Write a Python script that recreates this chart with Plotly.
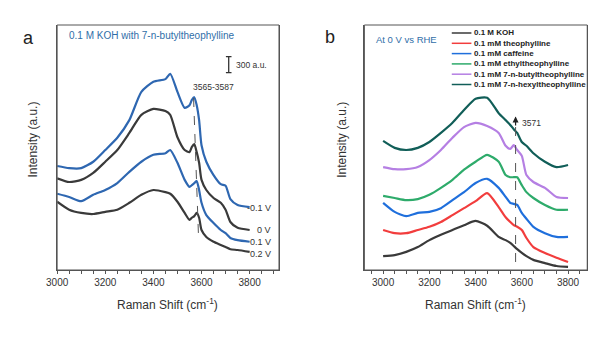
import plotly.graph_objects as go

# ---------------- panel a: potential series in 0.1 M KOH + 7-n-butyltheophylline
wn_a = [3000, 3050, 3100, 3150, 3200, 3250, 3300, 3350, 3400, 3450, 3470, 3500, 3530,
        3550, 3560, 3570, 3580, 3590, 3600, 3620, 3650, 3680, 3700, 3720, 3750, 3800]
neg01V = [1950, 1910, 1910, 2030, 2250, 2480, 2810, 3340, 3530, 3580, 3680, 3340, 3040,
          3090, 3190, 3240, 3090, 2810, 2340, 2030, 1780, 1610, 1580, 1330, 1220, 1180]
zeroV = [1720, 1650, 1690, 1820, 2030, 2250, 2570, 2910, 3020, 2980, 2910, 2490, 2250,
         2210, 2310, 2360, 2210, 2010, 1690, 1500, 1350, 1260, 1130, 900, 790, 750]
pos01V = [1430, 1370, 1290, 1410, 1500, 1630, 1840, 2030, 2160, 2190, 2250, 2010, 1690,
          1560, 1590, 1630, 1670, 1500, 1260, 1030, 880, 750, 690, 600, 560, 530]
pos02V = [1280, 1130, 1070, 1050, 1090, 1130, 1260, 1410, 1500, 1460, 1430, 1280, 1070,
          940, 980, 1010, 1070, 980, 750, 620, 530, 470, 430, 390, 375, 340]
series_a = [("-0.1 V", neg01V, "#2e67b1", 1170),
            ("0 V", zeroV, "#3a3a3a", 750),
            ("0.1 V", pos01V, "#2e67b1", 525),
            ("0.2 V", pos02V, "#3a3a3a", 300)]
guide_a_x = [3567, 3587]
guide_a_y = [3225, 694]
scalebar_x = [3713, 3713]
scalebar_y = [3700, 4000]

# ---------------- panel b: additives at 0 V vs RHE
wn_b = [3000, 3050, 3100, 3150, 3200, 3250, 3300, 3350, 3400, 3450, 3500, 3530, 3550,
        3565, 3580, 3600, 3620, 3650, 3700, 3750, 3800]
koh = [260, 280, 340, 430, 560, 660, 750, 840, 920, 830, 620, 560, 510,
       450, 390, 320, 260, 190, 130, 75, 60]
theophylline = [750, 690, 690, 750, 810, 900, 1030, 1160, 1290, 1440, 1180, 990, 900,
                840, 810, 750, 600, 430, 320, 230, 150]
caffeine = [1260, 1090, 1010, 1070, 1090, 1160, 1310, 1460, 1630, 1710, 1540, 1370, 1260,
            1240, 1220, 1070, 960, 810, 690, 620, 620]
ethyl = [1390, 1350, 1310, 1330, 1410, 1540, 1690, 1880, 2030, 2160, 2030, 1780, 1740,
         1740, 1740, 1590, 1460, 1350, 1220, 1130, 1130]
butyl = [1930, 1890, 1890, 1930, 2060, 2250, 2480, 2680, 2760, 2700, 2570, 2330, 2270,
         2340, 2250, 2140, 1780, 1650, 1540, 1370, 1350]
hexyl = [2420, 2290, 2250, 2290, 2400, 2570, 2760, 3000, 3210, 3230, 2940, 2810, 2720,
         2640, 2570, 2400, 2330, 2190, 2030, 1930, 1970]
series_b = [("0.1 M KOH", koh, "#3a3a3a"),
            ("0.1 mM theophylline", theophylline, "#f23d3d"),
            ("0.1 mM caffeine", caffeine, "#1f6fdc"),
            ("0.1 mM ethyltheophylline", ethyl, "#2eab6b"),
            ("0.1 mM 7-n-butyltheophylline", butyl, "#b57fe3"),
            ("0.1 mM 7-n-hexyltheophylline", hexyl, "#115e58")]
guide_b_x = [3573, 3573]
guide_b_y = [150, 2869]

# x ticks every 50 cm-1, labelled every 200 cm-1
tick_vals = [2950, 3000, 3050, 3100, 3150, 3200, 3250, 3300, 3350, 3400, 3450, 3500,
             3550, 3600, 3650, 3700, 3750, 3800, 3850, 3900]
tick_text = ["", "3000", "", "", "", "3200", "", "", "", "3400", "", "",
             "", "3600", "", "", "", "3800", "", ""]

FONT = "Arial, Liberation Sans, sans-serif"
Y_MAX = 4594
FRAME = "#555555"

PANEL_A = dict(x0=47 / 600, x1=273 / 600)
PANEL_B = dict(x0=360 / 600, x1=587 / 600)
Y_DOM = [68 / 338, 313 / 338]

fig = go.Figure()

for name, vals, color, _ in series_a:
    fig.add_trace(go.Scatter(x=wn_a, y=vals, mode="lines", name=name, xaxis="x", yaxis="y",
                             line=dict(color=color, width=2.2, shape="spline", smoothing=0.6),
                             showlegend=False))
fig.add_trace(go.Scatter(x=guide_a_x, y=guide_a_y, mode="lines", xaxis="x", yaxis="y",
                         line=dict(color="#555555", width=1, dash="dash"), showlegend=False))
fig.add_trace(go.Scatter(x=scalebar_x, y=scalebar_y, mode="lines+markers", xaxis="x", yaxis="y",
                         line=dict(color="#333333", width=1.3),
                         marker=dict(symbol="line-ew", size=4, line=dict(color="#333333", width=1.2)),
                         showlegend=False))

for name, vals, color in series_b:
    fig.add_trace(go.Scatter(x=wn_b, y=vals, mode="lines", name=name, xaxis="x2", yaxis="y2",
                             line=dict(color=color, width=2.2, shape="spline", smoothing=0.6),
                             showlegend=False))
fig.add_trace(go.Scatter(x=guide_b_x, y=guide_b_y, mode="lines", xaxis="x2", yaxis="y2",
                         line=dict(color="#555555", width=1, dash="dash"), showlegend=False))

xa = dict(showline=True, mirror=False, linecolor=FRAME, linewidth=1, showgrid=False,
          zeroline=False, ticks="outside", ticklen=3, tickcolor=FRAME, tickwidth=1,
          tickmode="array", tickvals=tick_vals, ticktext=tick_text,
          tickfont=dict(family=FONT, size=10, color="#333333"))
ya = dict(showline=True, mirror=True, linecolor=FRAME, linewidth=1, showgrid=False,
          zeroline=False, showticklabels=False, ticks="", range=[0, Y_MAX])

fig.update_layout(
    width=600, height=338, autosize=False,
    margin=dict(l=0, r=0, t=0, b=0),
    paper_bgcolor="white", plot_bgcolor="white",
    xaxis=dict(xa, domain=[PANEL_A["x0"], PANEL_A["x1"]], range=[3000, 3922]),
    yaxis=dict(ya, domain=Y_DOM),
    xaxis2=dict(xa, domain=[PANEL_B["x0"], PANEL_B["x1"]], range=[2919, 3883]),
    yaxis2=dict(ya, domain=Y_DOM, anchor="x2"),
)


def label(text, x, y, size, color="#333333", xref="paper", yref="paper", xanchor="center",
          angle=0, bold=False):
    return dict(text=("<b>%s</b>" % text) if bold else text, x=x, y=y, xref=xref, yref=yref,
                xanchor=xanchor, yanchor="middle", textangle=angle, showarrow=False,
                font=dict(family=FONT, size=size, color=color))


ann = []
# panel letters
ann.append(label("a", 18 / 600, 1 - 38 / 338, 18, "#222222"))
ann.append(label("b", 325 / 600, 1 - 37 / 338, 18, "#222222"))
# panel titles
ann.append(label("0.1 M KOH with 7-n-butyltheophylline", 57 / 600, 1 - 36 / 338, 10,
                 "#2f6ea8", xanchor="left"))
ann.append(label("At 0 V vs RHE", 370 / 600, 1 - 39 / 338, 9.5, "#2f6ea8", xanchor="left"))
# axis titles
for cx in (159, 473):
    ann.append(label("Raman Shift (cm<sup>-1</sup>)", cx / 600, 1 - 304 / 338, 12))
for cx in (22, 337):
    ann.append(label("Intensity (a.u.)", cx / 600, 1 - 140 / 338, 12, angle=-90))
# potential labels
for name, _, _, ly in series_a:
    ann.append(label(name, 3898, ly, 9, xref="x", yref="y", xanchor="right"))
ann.append(label("3565-3587", 3649, 3437, 8.5, xref="x", yref="y"))
ann.append(label("300 a.u.", 3736, 3850, 8.5, xref="x", yref="y", xanchor="left"))
# peak marker in panel b
ann.append(dict(text="", x=3573, y=2880, ax=3573, ay=2680, xref="x2", yref="y2",
                axref="x2", ayref="y2", showarrow=True, arrowhead=2, arrowsize=1,
                arrowwidth=1.2, arrowcolor="#222222"))
ann.append(label("3571", 3594, 2756, 8.5, xref="x2", yref="y2", xanchor="left"))

# plot frames (paper coordinates) and legend for panel b
shapes = []
for p in (PANEL_A, PANEL_B):
    shapes.append(dict(type="rect", xref="paper", yref="paper", x0=p["x0"], x1=p["x1"],
                       y0=Y_DOM[0], y1=Y_DOM[1], line=dict(color=FRAME, width=1),
                       layer="above"))
for i, (name, _, color) in enumerate(series_b):
    yp = 1 - (33 + i * 10.3) / 338
    shapes.append(dict(type="line", xref="paper", yref="paper", x0=449 / 600, x1=469 / 600,
                       y0=yp, y1=yp, line=dict(color=color, width=1.5)))
    ann.append(label(name, 470 / 600, yp, 8, "#222222", xanchor="left", bold=True))

fig.update_layout(annotations=ann, shapes=shapes)
fig.write_html("out.html")
